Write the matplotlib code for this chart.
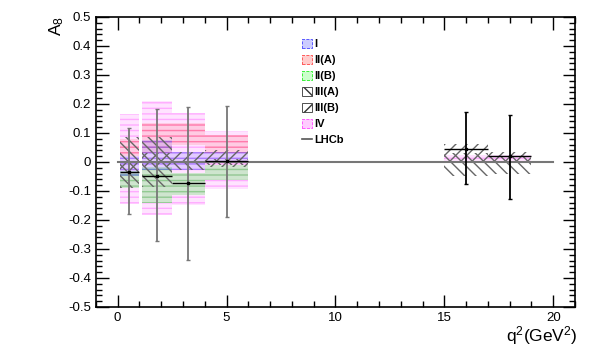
import numpy as np
import matplotlib
matplotlib.use('Agg')
from matplotlib import pyplot as plt
from matplotlib.patches import Patch
from matplotlib.lines import Line2D
from matplotlib.ticker import MultipleLocator

plt.rcParams['font.family'] = ['Liberation Sans', 'DejaVu Sans']
plt.rcParams['hatch.linewidth'] = 1.0

# q2 bins
bin_lo = [0.1, 1.1, 2.5, 4.0, 15.0, 17.0]
bin_hi = [0.98, 2.5, 4.0, 6.0, 17.0, 19.0]

# model predictions (low, high) per bin
model_I = [(-0.05, 0.02), (-0.028, 0.076), (-0.028, 0.035), (0.001, 0.036), (-0.003, 0.003), (-0.003, 0.003)]
model_IIA = [(0.02, 0.08), (0.03, 0.134), (0.058, 0.133), (0.031, 0.093), (-0.005, 0.005), (-0.005, 0.005)]
model_IIB = [(-0.09, -0.03), (-0.14, -0.016), (-0.114, -0.038), (-0.062, -0.01), (-0.003, 0.0), (-0.003, 0.0)]
model_IIIA = [(-0.09, 0.085), (-0.085, 0.087), (-0.028, 0.0), (-0.01, 0.01), (-0.05, 0.03), (-0.04, 0.025)]
model_IIIB = [(-0.03, 0.005), (-0.017, 0.03), (0.0, 0.036), (-0.016, 0.041), (-0.005, 0.062), (-0.005, 0.036)]
model_IV = [(-0.146, 0.166), (-0.183, 0.21), (-0.148, 0.168), (-0.094, 0.108), (0.0, 0.025), (0.0, 0.025)]

# LHCb measurement
lhcb_x = [0.54, 1.8, 3.25, 5.0, 16.0, 18.0]
lhcb_y = [-0.033, -0.047, -0.071, 0.003, 0.045, 0.021]
lhcb_up = [0.149, 0.229, 0.262, 0.19, 0.127, 0.141]
lhcb_dn = [0.147, 0.224, 0.267, 0.192, 0.122, 0.149]

fills = [
    ('IV', model_IV, '#ff44ff', 0.15),
    ('II(A)', model_IIA, '#ff4444', 0.15),
    ('II(B)', model_IIB, '#22ee22', 0.22),
    ('I', model_I, '#4444ff', 0.15),
]
hatches = [
    ('III(A)', model_IIIA, '\\\\\\'),
    ('III(B)', model_IIIB, '///'),
]

fig = plt.figure(figsize=(5.99, 3.54), dpi=100)
ax = fig.add_axes([0.160, 0.133, 0.800, 0.819])

for name, vals, col, al in fills:
    for lo, hi, (a, b) in zip(bin_lo, bin_hi, vals):
        ax.fill_between([lo, hi], a, b, facecolor=col, alpha=al, edgecolor='none')
        ax.fill_between([lo, hi], a, b, facecolor='none', edgecolor=col, hatch='---',
                        lw=0, alpha=0.35)

for name, vals, h in hatches:
    for lo, hi, (a, b) in zip(bin_lo, bin_hi, vals):
        ax.fill_between([lo, hi], a, b, facecolor='none', edgecolor='#666666', hatch=h, lw=0)

ax.plot([0, 20], [0, 0], color='#777777', lw=1.5, zorder=3)

xerr = [np.array(lhcb_x) - np.array(bin_lo), np.array(bin_hi) - np.array(lhcb_x)]
for i in range(len(lhcb_x)):
    vcol = '#777777' if i < 4 else 'black'
    ax.errorbar([lhcb_x[i]], [lhcb_y[i]], yerr=[[lhcb_dn[i]], [lhcb_up[i]]],
                fmt='none', ecolor=vcol, elinewidth=1.3, capsize=1.5, zorder=4)
    ax.errorbar([lhcb_x[i]], [lhcb_y[i]], xerr=[[xerr[0][i]], [xerr[1][i]]],
                fmt='s', color='black', ms=2, elinewidth=1.0, capsize=0, zorder=5)

ax.set_xlim(-1, 21)
ax.set_ylim(-0.5, 0.5)
ax.xaxis.set_major_locator(MultipleLocator(5))
ax.xaxis.set_minor_locator(MultipleLocator(1))
ax.yaxis.set_major_locator(MultipleLocator(0.1))
ax.yaxis.set_minor_locator(MultipleLocator(0.02))
ax.tick_params(which='both', direction='in', top=True, right=True, labelsize=9.5)
ax.tick_params(which='major', length=9, width=1)
ax.tick_params(which='minor', length=4.5, width=1)
ax.set_yticklabels(['%g' % v if abs(v) > 1e-9 else '0' for v in ax.get_yticks()])
for sp in ax.spines.values():
    sp.set_linewidth(1.2)

fig.text(0.095, 0.955, r'$\mathregular{A_8}$', rotation=90, ha='center', va='top', fontsize=12.5)
fig.text(0.965, 0.02, r'$\mathregular{q^2(GeV^2)}$', ha='right', va='bottom', fontsize=12.5)

handles = [
    Patch(facecolor='#ccccff', edgecolor='#4444ff', ls='--', lw=0.6),
    Patch(facecolor='#ffcccc', edgecolor='#ff4444', ls='--', lw=0.6),
    Patch(facecolor='#ccffcc', edgecolor='#22ee22', ls='--', lw=0.6),
    Patch(facecolor='white', edgecolor='#333333', hatch='\\\\', lw=0.6),
    Patch(facecolor='white', edgecolor='#333333', hatch='//', lw=0.6),
    Patch(facecolor='#ffccff', edgecolor='#ff44ff', ls='--', lw=0.6),
    Line2D([0], [0], color='#555555', lw=1.2),
]
labels = ['I', 'II(A)', 'II(B)', 'III(A)', 'III(B)', 'IV', 'LHCb']
leg = ax.legend(handles, labels, loc='upper left', bbox_to_anchor=(0.41, 0.96), frameon=False,
                handlelength=0.9, handleheight=0.9, handletextpad=0.2, labelspacing=0.5,
                prop={'size': 8, 'weight': 'bold'})

fig.savefig('out.png', dpi=100)
